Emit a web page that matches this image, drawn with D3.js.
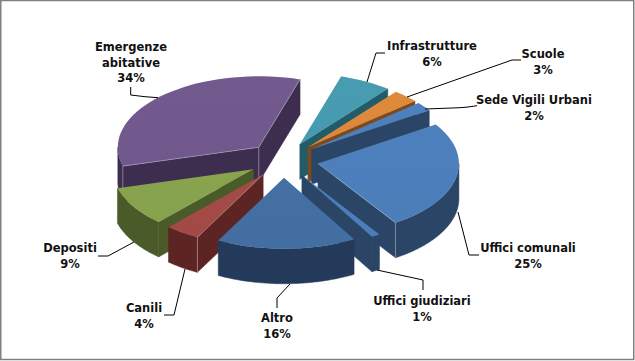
<!DOCTYPE html>
<html><head><meta charset="utf-8">
<script src="https://cdn.jsdelivr.net/npm/d3@7"></script>
<style>
html,body{margin:0;padding:0;background:#fff}
svg{display:block}
text{font-family:"DejaVu Sans",sans-serif;font-weight:700;font-size:11.5px;fill:#111;text-anchor:middle}
</style></head><body>
<script>
const categories = ["Infrastrutture","Scuole","Sede Vigili Urbani","Uffici comunali","Uffici giudiziari","Altro","Canili","Depositi","Emergenze abitative"];
const shares = [6,3,2,25,1,16,4,9,34];
const topColors = ["#469aae","#dc873a","#4c7fbb","#4c7fbb","#4c7fbb","#4470a5","#a54a47","#88a44d","#70588c"];
const wallColors = ["#235c69","#7d4a1e","#2a4566","#2a4566","#2a4566","#233a5a","#5c2523","#4a5a28","#3d2e50"];
const paintOrder = [8,7,6,0,1,2,3,4,5];
const litSlices = [8,6,3];
const labelLines = [["Infrastrutture"],["Scuole"],["Sede Vigili Urbani"],["Uffici comunali"],["Uffici giudiziari"],["Altro"],["Canili"],["Depositi"],["Emergenze","abitative"]];
const labelAnchors = [[432,50],[543,58],[534,104],[528,252],[422,305],[277,322],[144,312],[70,252],[131,51]];
const leaders = [
 [[367,82],[376,53],[385,53]],
 [[407,97],[512,60],[521,60]],
 [[425,109],[460,107.7],[468,107],[477,105.7]],
 [[458,212],[469,255],[479,255]],
 [[377,270],[423,280],[423,290]],
 [[290,284],[277,298],[277,308]],
 [[185,269],[174,315],[164,315]],
 [[134,242],[108,256],[98,256]],
 [[158,97.7],[145,96.7],[130.7,95],[130.7,87]]
];
const W=635,H=361,cx=283.4,cy=160,rx=141,ry=71,depth=35,explode=0.25;
const deg=Math.PI/180;
const svg=d3.select("body").append("svg").attr("width",W).attr("height",H);
svg.append("rect").attr("width",W).attr("height",H).attr("fill","#fff");

const pie=d3.pie().sort(null).startAngle(17*deg).endAngle(377*deg);
const arcs=pie(shares);
const line=d3.line();
const defs=svg.append("defs");

function slicePts(d){
  const mid=(d.startAngle+d.endAngle)/2;
  const ax=cx+explode*rx*Math.sin(mid), ay=cy-explode*ry*Math.cos(mid);
  const P=a=>[ax+rx*Math.sin(a),ay-ry*Math.cos(a)];
  return {ax,ay,P};
}
const down=p=>[p[0],p[1]+depth];

paintOrder.forEach(i=>{
  const d=arcs[i],{ax,ay,P}=slicePts(d);
  const g=svg.append("g");
  const top=d3.range(0,41).map(k=>P(d.startAngle+(d.endAngle-d.startAngle)*k/40));
  const apex=[ax,ay];
  const wall=wallColors[i];
  const lit=litSlices.includes(i);
  const corners=[];
  const startShown=Math.sin(d.startAngle)<0, endShown=Math.sin(d.endAngle)>0;
  if(startShown){
    const r=top[0];
    g.append("path").attr("d",line([apex,r,down(r),down(apex)])+"Z").attr("fill",wall).attr("stroke",wall).attr("stroke-width",.5);
    corners.push(r);
  }
  if(endShown){
    const r=top[top.length-1];
    g.append("path").attr("d",line([apex,r,down(r),down(apex)])+"Z").attr("fill",wall).attr("stroke",wall).attr("stroke-width",.5);
    corners.push(r);
  }
  if(i===8) corners.push(apex);
  const a0=Math.max(d.startAngle,90*deg),a1=Math.min(d.endAngle,270*deg);
  if(a1>a0){
    const rim=d3.range(0,41).map(k=>P(a0+(a1-a0)*k/40));
    g.append("path").attr("d",line(rim.concat(rim.slice().reverse().map(down)))+"Z").attr("fill",wall).attr("stroke",wall).attr("stroke-width",.5);
  }
  if(lit){
    corners.forEach(p=>{
      if(i===8 && p===top[40]) return;
      g.append("line").attr("x1",p[0]).attr("y1",p[1]).attr("x2",p[0]).attr("y2",p[1]+depth)
        .attr("stroke","#fff").attr("stroke-opacity",.35).attr("stroke-width",1);
    });
  }
  const gid="top"+i;
  const lg=defs.append("linearGradient").attr("id",gid).attr("gradientUnits","userSpaceOnUse")
    .attr("x1",cx).attr("y1",cy-ry).attr("x2",cx).attr("y2",cy+ry+20);
  lg.append("stop").attr("offset",0).attr("stop-color",d3.color(topColors[i]).brighter(.04));
  lg.append("stop").attr("offset",1).attr("stop-color",d3.color(topColors[i]).darker(.05));
  g.append("path").attr("d",line([apex,...top])+"Z").attr("fill",`url(#${gid})`);
  if(lit){
    if(startShown) g.append("line").attr("x1",ax).attr("y1",ay).attr("x2",top[0][0]).attr("y2",top[0][1]).attr("stroke","#fff").attr("stroke-opacity",.3);
    if(endShown) g.append("line").attr("x1",ax).attr("y1",ay).attr("x2",top[40][0]).attr("y2",top[40][1]).attr("stroke","#fff").attr("stroke-opacity",.3);
  }
});

svg.append("g").selectAll("path").data(leaders).join("path")
  .attr("d",d=>line(d)).attr("fill","none").attr("stroke","#000").attr("stroke-width",1);

categories.forEach((c,i)=>{
  const [x,y]=labelAnchors[i];
  const lines=[...labelLines[i],shares[i]+"%"];
  const t=svg.append("text").attr("x",x).attr("y",y);
  lines.forEach((l,k)=>t.append("tspan").attr("x",x).attr("dy",k?15.5:0).text(l));
});

svg.append("rect").attr("x",.75).attr("y",.5).attr("width",W-2).attr("height",H-2)
  .attr("fill","none").attr("stroke","#808080").attr("stroke-width",1.5);
</script>
</body></html>
